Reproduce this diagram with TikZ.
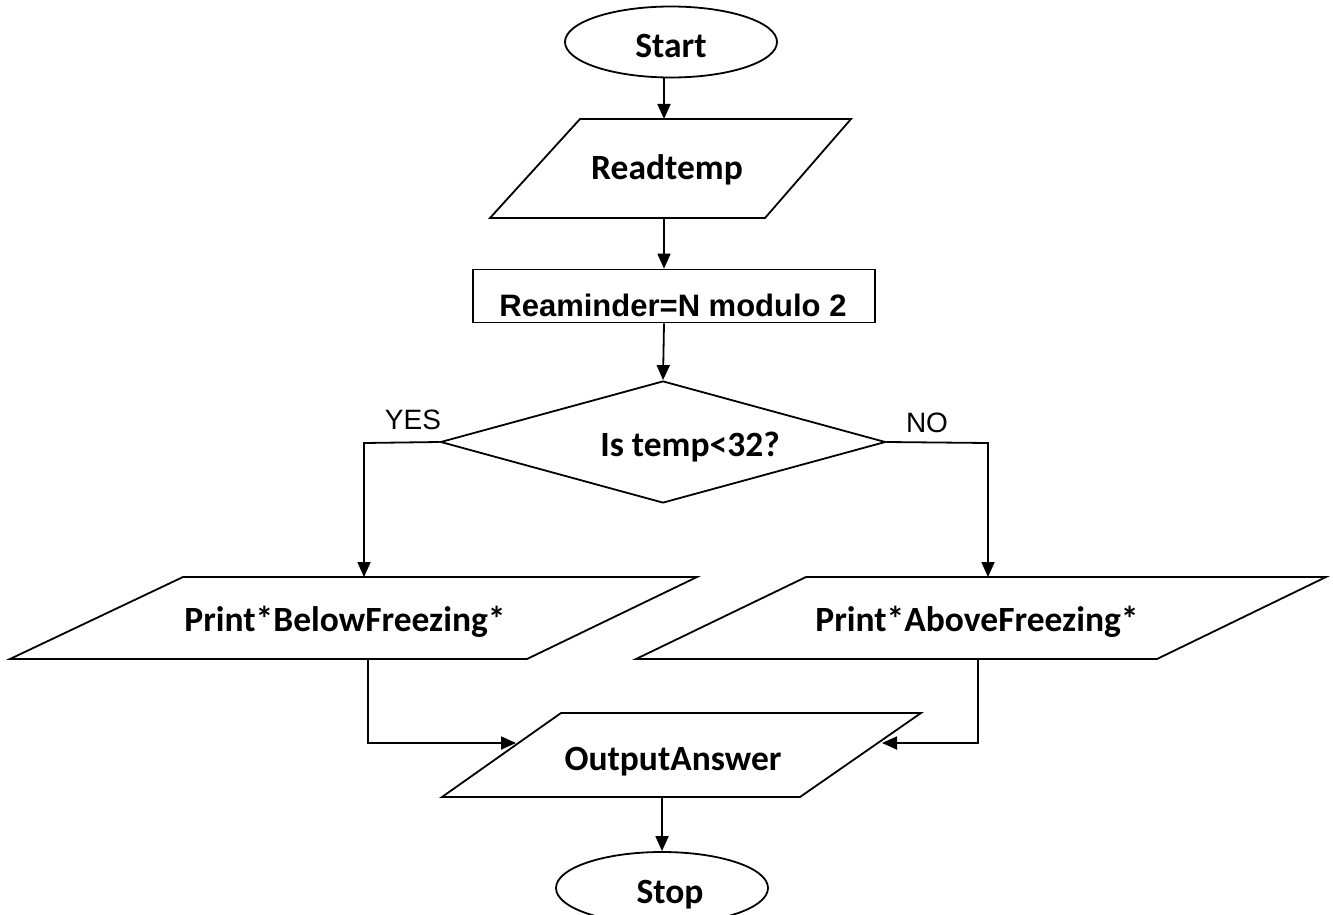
\documentclass[tikz,border=0pt]{standalone}
\usepackage{fontspec}
\setmainfont{Carlito}
\newfontfamily\arialfont{Liberation Sans}
\usetikzlibrary{arrows.meta,shapes.geometric}
\begin{document}
\begin{tikzpicture}[x=1pt,y=-1pt,line width=1.8pt,
  term/.style={draw,ellipse,minimum width=212pt,minimum height=71pt,inner sep=0pt},
  lbl/.style={font=\fontsize{35.5}{40}\selectfont\bfseries,inner sep=0pt},
  yn/.style={font=\arialfont\fontsize{28}{32}\selectfont,inner sep=0pt},
  arr/.style={-{Triangle[length=15pt,width=13pt]}}]
\useasboundingbox (0,0) rectangle (1333,915);

% terminals
\node[term] (start) at (671,42) {};
\node[lbl] (starttxt) at (671,46) {Start};
\node[term,minimum height=72pt] (stop) at (662,888) {};
\node[lbl] (stoptxt) at (670,895) {Stop};

% Readtemp
\draw (580,119) -- (851,119) -- (765,218) -- (490,218) -- cycle;
\node[lbl] (rt) at (667,170) {Readtemp};
\coordinate (rttop) at (664,119);
\coordinate (rtbot) at (664,218);

% process box
\node[draw,minimum width=402pt,minimum height=53pt,inner sep=0pt] (rem) at (674,296) {};
\node[font=\arialfont\bfseries\fontsize{31}{36}\selectfont,inner sep=0pt] (remtxt) at (673,305) {Reaminder=N modulo 2};

% decision
\node[draw,diamond,minimum width=445pt,minimum height=122pt,inner sep=0pt] (dec) at (663,442) {};
\node[lbl] (dq) at (690,447) {Is temp<32?};
\node[yn] (yes) at (413,420) {YES};
\node[yn] (no) at (927,423) {NO};

% outputs
\draw (183,577) -- (697,577) -- (527,659) -- (10,659) -- cycle;
\node[lbl] (below) at (345,622) {Print*BelowFreezing*};
\draw (806,577) -- (1326,577) -- (1157,659) -- (636,659) -- cycle;
\node[lbl] (above) at (977,622) {Print*AboveFreezing*};
\coordinate (btop) at (364,577);
\coordinate (bbot) at (368,659);
\coordinate (atop) at (988,577);
\coordinate (abot) at (978,659);

\draw (561,713) -- (921,713) -- (800,797) -- (442,797) -- cycle;
\node[lbl] (out) at (673,762) {OutputAnswer};
\coordinate (outl) at (516,743);
\coordinate (outr) at (882,743);
\coordinate (outbot) at (662,797);

% connectors
\draw[arr] (start.south -| rttop) -- (rttop);
\draw[arr] (rtbot) -- (rem.north -| rtbot);
\draw[arr] (rem.south -| rtbot) -- (dec.north);
\coordinate (yl) at (364,443);
\coordinate (nr) at (988,443);
\draw[arr] (dec.west) -- (yl) -- (btop);
\draw[arr] (dec.east) -- (nr) -- (atop);
\draw[arr] (bbot) |- (outl);
\draw[arr] (abot) |- (outr);
\draw[arr] (outbot) -- (stop.north);
\end{tikzpicture}
\end{document}
